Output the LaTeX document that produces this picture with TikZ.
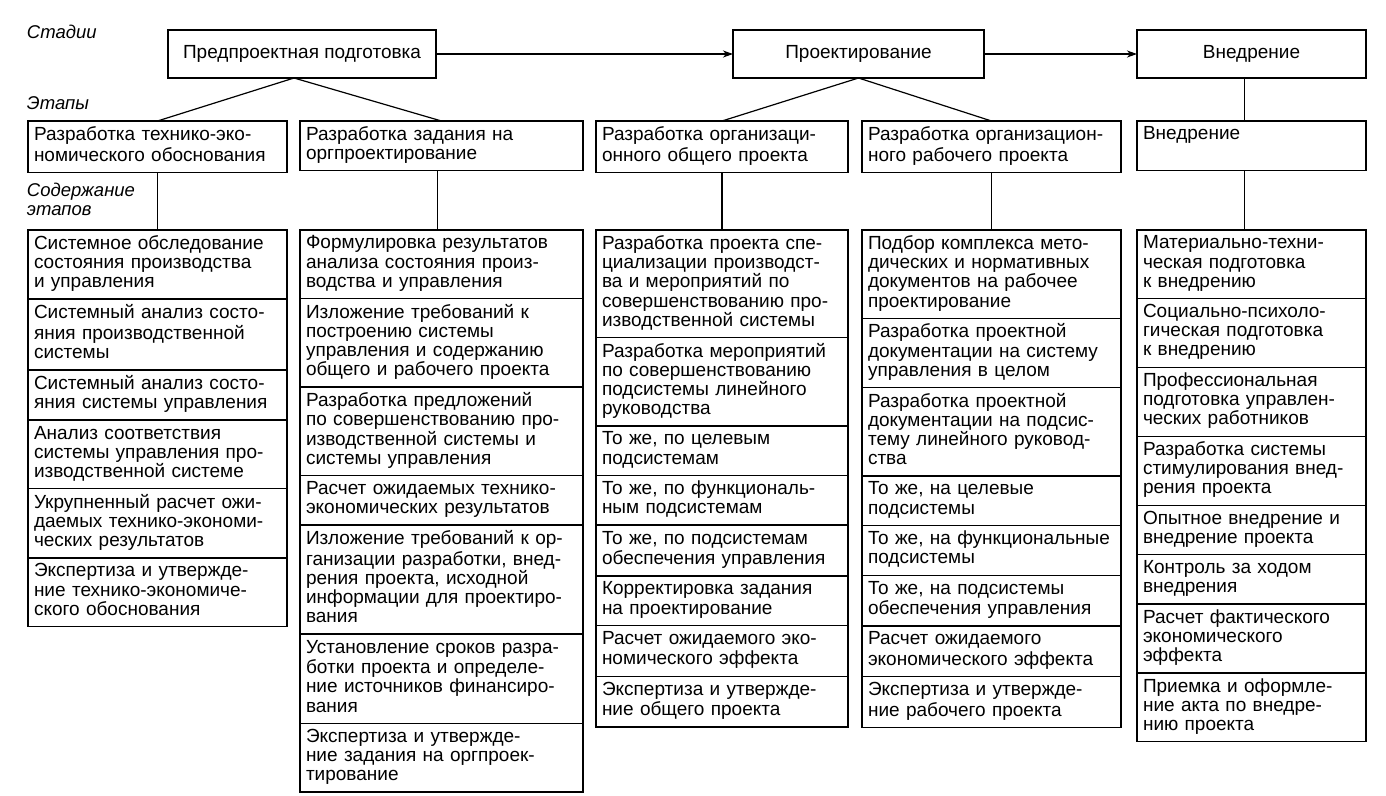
\documentclass[tikz,border=0pt]{standalone}
\usepackage{fontspec}
\setmainfont{Liberation Sans}
\usetikzlibrary{positioning,arrows.meta}

\begin{document}
\begin{tikzpicture}[x=1pt, y=-1pt,
    every node/.style={font=\fontsize{19}{19.2}\selectfont, outer sep=0pt},
    wire/.style={line width=1.2pt},
    stage/.style={draw, wire, minimum height=48pt, inner sep=0pt},
    entry/.style={draw, wire, align=left, inner xsep=6pt, inner ysep=5.5pt,
        execute at begin node=\strut, execute at end node=\strut},
    cA/.style={entry, text width=247pt},
    cB/.style={entry, text width=271pt},
    cC/.style={entry, text width=240pt},
    cD/.style={entry, text width=247pt},
    cE/.style={entry, text width=217pt},
    tag/.style={font=\fontsize{18.5}{19}\selectfont\itshape, inner sep=0pt, anchor=west},
    go/.style={wire, -{Stealth[length=10pt,width=7pt,inset=3pt]}},
    ]
  \useasboundingbox (0,0) rectangle (1386,795);

  \node[tag] (tstad) at (27,32) {Стадии};
  \node[tag] (tetap) at (27,103) {Этапы};
  \node[tag, align=left] (tsod) at (27,199) {Содержание\\этапов};

  \node[stage, minimum width=268pt] (predp) at (302,54) {Предпроектная подготовка};
  \node[stage, minimum width=251pt] (proekt) at (858.5,54) {Проектирование};
  \node[stage, minimum width=229pt] (vnedr) at (1251.5,54) {Внедрение};

  \node[cA, anchor=north west] (etapA) at (28,121) {Разработка технико-эко-\\номического обоснования};
  \node[cB, anchor=north west] (etapB) at (300,121) {Разработка задания на\\оргпроектирование};
  \node[cC, anchor=north west] (etapC) at (596,121) {Разработка организаци-\\онного общего проекта};
  \node[cD, anchor=north west] (etapD) at (862,121) {Разработка организацион-\\ного рабочего проекта};
  \node[cE, anchor=north west] (etapE) at (1137,121) {Внедрение\\};

  % предпроектная подготовка
  \node[cA, anchor=north west] (a1) at (28,230) {Системное обследование\\состояния производства\\и управления};
  \node[cA, below=0pt of a1] (a2) {Системный анализ состо-\\яния производственной\\системы};
  \node[cA, below=0pt of a2] (a3) {Системный анализ состо-\\яния системы управления};
  \node[cA, below=0pt of a3] (a4) {Анализ соответствия\\системы управления про-\\изводственной системе};
  \node[cA, below=0pt of a4] (a5) {Укрупненный расчет ожи-\\даемых технико-экономи-\\ческих результатов};
  \node[cA, below=0pt of a5] (a6) {Экспертиза и утвержде-\\ние технико-экономиче-\\ского обоснования};

  \node[cB, anchor=north west] (b1) at (300,230) {Формулировка результатов\\анализа состояния произ-\\водства и управления};
  \node[cB, below=0pt of b1] (b2) {Изложение требований к\\построению системы\\управления и содержанию\\общего и рабочего проекта};
  \node[cB, below=0pt of b2] (b3) {Разработка предложений\\по совершенствованию про-\\изводственной системы и\\системы управления};
  \node[cB, below=0pt of b3] (b4) {Расчет ожидаемых технико-\\экономических результатов};
  \node[cB, below=0pt of b4] (b5) {Изложение требований к ор-\\ганизации разработки, внед-\\рения проекта, исходной\\информации для проектиро-\\вания};
  \node[cB, below=0pt of b5] (b6) {Установление сроков разра-\\ботки проекта и определе-\\ние источников финансиро-\\вания};
  \node[cB, below=0pt of b6] (b7) {Экспертиза и утвержде-\\ние задания на оргпроек-\\тирование};

  % проектирование
  \node[cC, anchor=north west] (c1) at (596,230) {Разработка проекта спе-\\циализации производст-\\ва и мероприятий по\\совершенствованию про-\\изводственной системы};
  \node[cC, below=0pt of c1] (c2) {Разработка мероприятий\\по совершенствованию\\подсистемы линейного\\руководства};
  \node[cC, below=0pt of c2] (c3) {То же, по целевым\\подсистемам};
  \node[cC, below=0pt of c3] (c4) {То же, по функциональ-\\ным подсистемам};
  \node[cC, below=0pt of c4] (c5) {То же, по подсистемам\\обеспечения управления};
  \node[cC, below=0pt of c5] (c6) {Корректировка задания\\на проектирование};
  \node[cC, below=0pt of c6] (c7) {Расчет ожидаемого эко-\\номического эффекта};
  \node[cC, below=0pt of c7] (c8) {Экспертиза и утвержде-\\ние общего проекта};

  \node[cD, anchor=north west] (d1) at (862,230) {Подбор комплекса мето-\\дических и нормативных\\документов на рабочее\\проектирование};
  \node[cD, below=0pt of d1] (d2) {Разработка проектной\\документации на систему\\управления в целом};
  \node[cD, below=0pt of d2] (d3) {Разработка проектной\\документации на подсис-\\тему линейного руковод-\\ства};
  \node[cD, below=0pt of d3] (d4) {То же, на целевые\\подсистемы};
  \node[cD, below=0pt of d4] (d5) {То же, на функциональные\\подсистемы};
  \node[cD, below=0pt of d5] (d6) {То же, на подсистемы\\обеспечения управления};
  \node[cD, below=0pt of d6] (d7) {Расчет ожидаемого\\экономического эффекта};
  \node[cD, below=0pt of d7] (d8) {Экспертиза и утвержде-\\ние рабочего проекта};

  % внедрение
  \node[cE, anchor=north west] (e1) at (1137,230) {Материально-техни-\\ческая подготовка\\к внедрению};
  \node[cE, below=0pt of e1] (e2) {Социально-психоло-\\гическая подготовка\\к внедрению};
  \node[cE, below=0pt of e2] (e3) {Профессиональная\\подготовка управлен-\\ческих работников};
  \node[cE, below=0pt of e3] (e4) {Разработка системы\\стимулирования внед-\\рения проекта};
  \node[cE, below=0pt of e4] (e5) {Опытное внедрение и\\внедрение проекта};
  \node[cE, below=0pt of e5] (e6) {Контроль за ходом\\внедрения};
  \node[cE, below=0pt of e6] (e7) {Расчет фактического\\экономического\\эффекта};
  \node[cE, below=0pt of e7] (e8) {Приемка и оформле-\\ние акта по внедре-\\нию проекта};

  \draw[go] (predp) -- (proekt);
  \draw[go] (proekt) -- (vnedr);

  \draw[wire] ([xshift=-8pt]predp.south) -- (etapA.north);
  \draw[wire] ([xshift=-8pt]predp.south) -- (etapB.north);
  \draw[wire] (proekt.south) -- (etapC.north);
  \draw[wire] (proekt.south) -- (etapD.north);
  \draw[wire] ([xshift=-7pt]vnedr.south) -- ([xshift=-7pt]etapE.north);

  \draw[wire] (etapA) -- (a1);
  \draw[wire] ([xshift=-4pt]etapB.south) -- ([xshift=-4pt]b1.north);
  \draw[wire] (etapC) -- (c1);
  \draw[wire] (etapD) -- (d1);
  \draw[wire] ([xshift=-7pt]etapE.south) -- ([xshift=-7pt]e1.north);
\end{tikzpicture}
\end{document}
